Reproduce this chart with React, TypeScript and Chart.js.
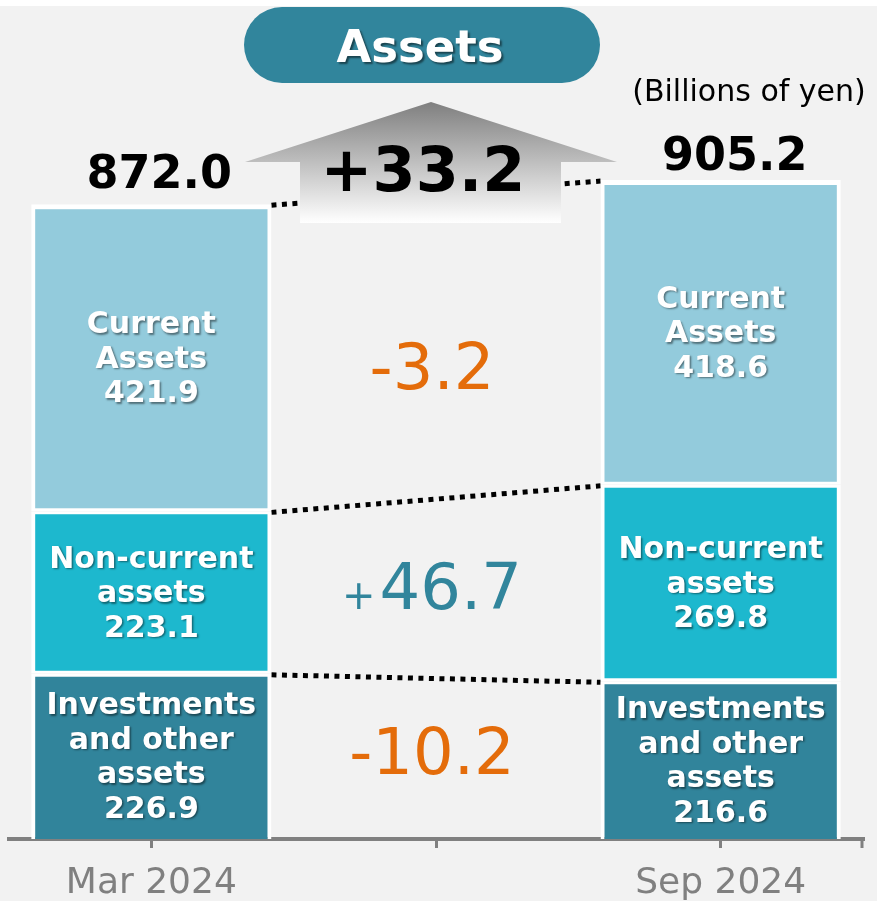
import React, { useEffect, useRef } from 'react';
import { Chart, registerables } from 'chart.js';

Chart.register(...registerables);

// ---- data ----
const categories = ['Mar 2024', '', 'Sep 2024'];
const investments = [226.9, null, 216.6];
const nonCurrent = [223.1, null, 269.8];
const current = [421.9, null, 418.6];
const totals = ['872.0', '', '905.2'];
const segmentNames = [
  ['Investments', 'and other', 'assets'],
  ['Non-current', 'assets'],
  ['Current', 'Assets'],
];
const changeLabels = ['-10.2', '+46.7', '-3.2'];
const totalChange = '+33.2';
const titleText = 'Assets';
const unitText = '(Billions of yen)';

const FONT = "'DejaVu Sans', Verdana, sans-serif";
const ORANGE = '#E46C0A';
const TEAL = '#31859C';

const overlayPlugin = {
  id: 'overlay',
  beforeDraw(chart: any) {
    const { ctx, width, height } = chart;
    ctx.save();
    ctx.fillStyle = '#ffffff';
    ctx.fillRect(0, 0, width, height);
    ctx.fillStyle = '#f2f2f2';
    ctx.fillRect(0, 6, width, height - 6);
    ctx.restore();
  },
  beforeDatasetsDraw(chart: any) {
    const { ctx } = chart;
    ctx.save();
    ctx.strokeStyle = '#000000';
    ctx.lineWidth = 5;
    ctx.setLineDash([5, 5.5]);
    for (let d = 0; d < 3; d++) {
      const meta = chart.getDatasetMeta(d);
      const a = meta.data[0];
      const b = meta.data[2];
      ctx.beginPath();
      ctx.moveTo(a.x + a.width / 2, a.y + 1);
      ctx.lineTo(b.x - b.width / 2, b.y + 1);
      ctx.stroke();
    }
    ctx.restore();
  },
  afterDatasetsDraw(chart: any) {
    const { ctx } = chart;
    ctx.save();
    // segment labels
    ctx.fillStyle = '#ffffff';
    ctx.textAlign = 'center';
    ctx.textBaseline = 'middle';
    ctx.font = `bold 30px ${FONT}`;
    ctx.shadowColor = 'rgba(0,0,0,0.45)';
    ctx.shadowOffsetX = 1.5;
    ctx.shadowOffsetY = 1.5;
    ctx.shadowBlur = 2;
    const lh = 34.5;
    for (let d = 0; d < 3; d++) {
      const meta = chart.getDatasetMeta(d);
      const values = chart.data.datasets[d].data;
      [0, 2].forEach((i) => {
        const el = meta.data[i];
        const lines = [...segmentNames[d], (values[i] as number).toFixed(1)];
        const cy = (el.y + el.base) / 2;
        const start = cy - ((lines.length - 1) * lh) / 2;
        lines.forEach((t, k) => ctx.fillText(t, el.x, start + k * lh + 2));
      });
    }
    ctx.restore();

    // change labels in the middle
    ctx.save();
    const xMid = chart.scales.x.getPixelForValue(1) - 4;
    const dy = [-8, -3, 20];
    for (let d = 0; d < 3; d++) {
      const meta = chart.getDatasetMeta(d);
      const a = meta.data[0];
      const b = meta.data[2];
      const top = (a.y + b.y) / 2;
      const bot = (a.base + b.base) / 2;
      const cy = (top + bot) / 2 + dy[d];
      const label = changeLabels[d];
      const positive = label.startsWith('+');
      ctx.fillStyle = positive ? TEAL : ORANGE;
      ctx.textBaseline = 'alphabetic';
      ctx.textAlign = 'left';
      const baseY = cy + 24;
      if (positive) {
        ctx.font = `40px ${FONT}`;
        const wp = ctx.measureText('+').width;
        ctx.font = `64px ${FONT}`;
        const wr = ctx.measureText(label.slice(1)).width;
        const x0 = xMid - (wp + 4 + wr) / 2;
        ctx.font = `40px ${FONT}`;
        ctx.fillText('+', x0, baseY);
        ctx.font = `64px ${FONT}`;
        ctx.fillText(label.slice(1), x0 + wp + 4, baseY);
      } else {
        ctx.font = `64px ${FONT}`;
        ctx.textAlign = 'center';
        ctx.fillText(label, xMid, baseY);
      }
    }
    ctx.restore();
  },
  afterDraw(chart: any) {
    const { ctx, chartArea } = chart;
    ctx.save();
    // end tick on axis
    ctx.strokeStyle = '#808080';
    ctx.lineWidth = 3;
    ctx.beginPath();
    ctx.moveTo(chartArea.right - 1, chartArea.bottom);
    ctx.lineTo(chartArea.right - 1, chartArea.bottom + 9);
    ctx.stroke();

    // arrow
    const grad = ctx.createLinearGradient(0, 102, 0, 223);
    grad.addColorStop(0, '#7f7f7f');
    grad.addColorStop(1, '#ffffff');
    ctx.fillStyle = grad;
    ctx.beginPath();
    ctx.moveTo(431, 102);
    ctx.lineTo(617, 162);
    ctx.lineTo(561, 162);
    ctx.lineTo(561, 223);
    ctx.lineTo(300, 223);
    ctx.lineTo(300, 162);
    ctx.lineTo(245, 162);
    ctx.closePath();
    ctx.fill();

    ctx.fillStyle = '#000000';
    ctx.font = `bold 62px ${FONT}`;
    ctx.textAlign = 'center';
    ctx.textBaseline = 'alphabetic';
    ctx.fillText(totalChange, 423, 191);

    // title pill
    ctx.fillStyle = TEAL;
    ctx.beginPath();
    ctx.roundRect(244, 7, 356, 76, 38);
    ctx.fill();
    ctx.save();
    ctx.fillStyle = '#ffffff';
    ctx.shadowColor = 'rgba(0,0,0,0.5)';
    ctx.shadowOffsetX = 2;
    ctx.shadowOffsetY = 2;
    ctx.shadowBlur = 2;
    ctx.font = `bold 45px ${FONT}`;
    ctx.fillText(titleText, 420, 62);
    ctx.restore();

    // unit
    ctx.fillStyle = '#000000';
    ctx.font = `30px ${FONT}`;
    ctx.fillText(unitText, 749, 101);

    // totals
    ctx.font = `bold 46px ${FONT}`;
    const meta = chart.getDatasetMeta(2);
    const offs = [
      [8, -16],
      [0, 0],
      [14, -10],
    ];
    totals.forEach((t, i) => {
      if (!t) return;
      const el = meta.data[i];
      ctx.fillText(t, el.x + offs[i][0], el.y + offs[i][1]);
    });
    ctx.restore();
  },
};

export default function App() {
  const ref = useRef<HTMLCanvasElement | null>(null);
  useEffect(() => {
    document.body.style.margin = '0';
    const canvas = ref.current;
    if (!canvas) return;
    const bw = (top: number, bottom: number) => ({ top, bottom, left: 4, right: 4 });
    const chart = new Chart(canvas, {
      type: 'bar',
      data: {
        labels: categories,
        datasets: [
          {
            label: 'Investments and other assets',
            data: investments,
            backgroundColor: '#31849B',
            borderColor: '#ffffff',
            borderWidth: bw(3, 0),
            borderSkipped: false,
          },
          {
            label: 'Non-current assets',
            data: nonCurrent,
            backgroundColor: '#1DB8CE',
            borderColor: '#ffffff',
            borderWidth: bw(3, 3),
            borderSkipped: false,
          },
          {
            label: 'Current Assets',
            data: current,
            backgroundColor: '#93CBDC',
            borderColor: '#ffffff',
            borderWidth: bw(5, 3),
            borderSkipped: false,
          },
        ] as any,
      },
      options: {
        responsive: false,
        animation: false,
        devicePixelRatio: 1,
        categoryPercentage: 1,
        barPercentage: 0.844,
        layout: { padding: { top: 9, left: 9, right: 14, bottom: 0 } },
        plugins: {
          legend: { display: false },
          tooltip: { enabled: false },
          title: { display: false },
        },
        scales: {
          x: {
            stacked: true,
            offset: true,
            grid: {
              offset: false,
              drawOnChartArea: false,
              color: '#808080',
              lineWidth: 3,
              tickLength: 9,
            },
            border: { color: '#808080', width: 4 },
            ticks: {
              color: '#808080',
              font: { family: FONT, size: 36 },
              padding: 14,
              maxRotation: 0,
              autoSkip: false,
            },
            afterFit: (s: any) => {
              s.height = 62;
            },
          },
          y: {
            stacked: true,
            display: false,
            min: 0,
            max: 1140,
          },
        },
      } as any,
      plugins: [overlayPlugin],
    });
    return () => chart.destroy();
  }, []);
  return <canvas ref={ref} width={877} height={901} style={{ display: 'block' }} />;
}
